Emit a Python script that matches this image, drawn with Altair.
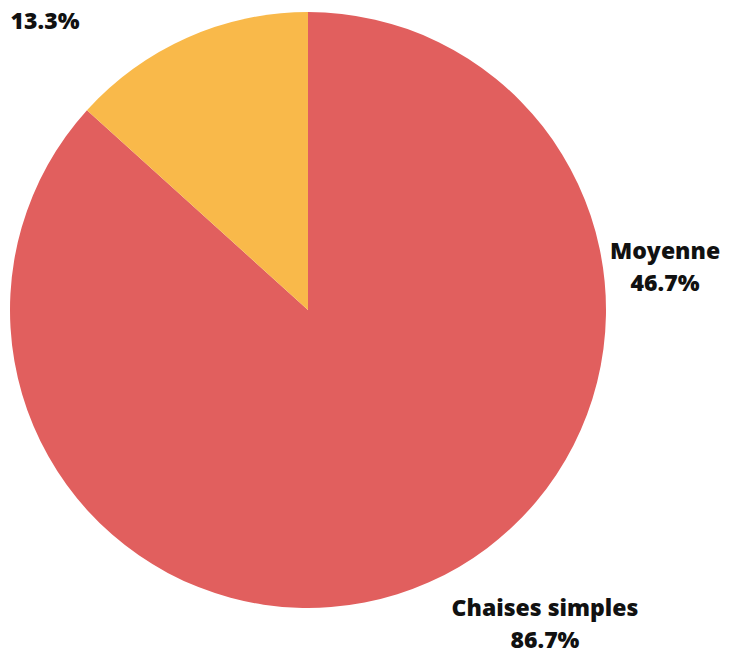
import altair as alt
import pandas as pd

categories = ["Chaises simples", "Autre"]
values = [86.7, 13.3]
colors = ["#E15F5E", "#F9B94A"]

label_lines = [["Moyenne", "46.7%"], ["Chaises simples", "86.7%"], ["13.3%"]]
label_angle = [80.8, 141.6, 317.6]
label_radius = [361.7, 381.5, 390.0]

pie_df = pd.DataFrame({"cat": categories, "val": values, "order": [0, 1]})
lab_df = pd.DataFrame({"text": label_lines, "ang": label_angle, "r": label_radius})

cx, cy, R = 300, 302, 298

pie = alt.Chart(pie_df).mark_arc(radius=R, stroke=None).encode(
    theta=alt.Theta("val:Q", stack=True),
    order=alt.Order("order:Q"),
    color=alt.Color("cat:N", scale=alt.Scale(domain=categories, range=colors), legend=None),
    x=alt.value(cx),
    y=alt.value(cy),
)

labels = alt.Chart(lab_df).mark_text(
    font="Open Sans", fontSize=23, fontWeight=800, color="#111111",
    align="center", baseline="middle", lineHeight=32
).encode(
    text="text",
    theta=alt.Theta("ang:Q", scale=alt.Scale(domain=[0, 360], range=[0, 6.283185307179586])),
    radius=alt.Radius("r:Q", scale=alt.Scale(type="linear", domain=[0, 1000], range=[0, 1000], zero=True)),
    x=alt.value(cx),
    y=alt.value(cy),
)

chart = alt.layer(pie, labels).resolve_scale(theta="independent", radius="independent").properties(
    width=714, height=647, padding=0,
    autosize=alt.AutoSizeParams(type="none")
).configure_view(stroke=None)

chart.save("out.html", embed_options={"renderer": "svg", "actions": False})
